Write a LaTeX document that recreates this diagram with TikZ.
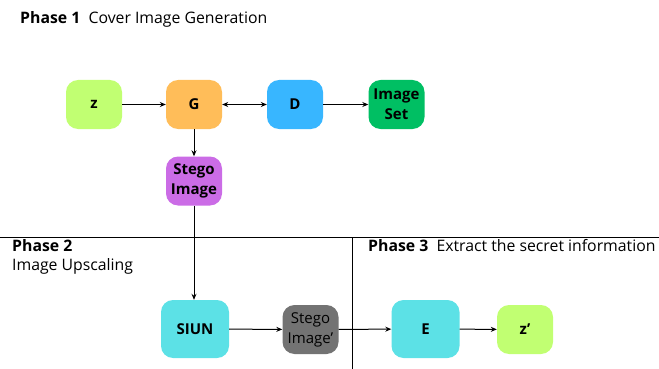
\documentclass[tikz,border=0pt]{standalone}
\usepackage{fontspec}
\setmainfont{Open Sans}
\usepackage{xcolor}
\usetikzlibrary{arrows.meta, calc}
\definecolor{limebox}{HTML}{C1FF72}
\definecolor{orangebox}{HTML}{FFBD59}
\definecolor{bluebox}{HTML}{38B6FF}
\definecolor{greenbox}{HTML}{00BF63}
\definecolor{purplebox}{HTML}{CB6CE6}
\definecolor{cyanbox}{HTML}{5CE1E6}
\definecolor{greybox}{HTML}{737373}

\begin{document}
\begin{tikzpicture}[x=1pt, y=-1pt, >={Stealth[length=6pt, width=5pt]},
  every node/.style={font=\fontsize{15.8}{18}\selectfont},
  blk/.style={rounded corners=12pt, align=center, minimum width=56pt, minimum height=49pt, inner sep=1pt, font=\fontsize{15}{20}\selectfont\bfseries},
  wide/.style={minimum width=68pt, minimum height=58pt}]
  \useasboundingbox (0,0) rectangle (659,369);
  % phase captions
  \node[anchor=west, inner sep=0pt] (ph1) at (20,19) {\textbf{Phase 1}\ \ Cover Image Generation};
  \node[anchor=west, inner sep=0pt] (ph2) at (12,246) {\textbf{Phase 2}};
  \node[anchor=west, inner sep=0pt] (ph2b) at (12,266) {Image Upscaling};
  \node[anchor=west, inner sep=0pt] (ph3) at (368,246) {\textbf{Phase 3}\ \ Extract the secret information};
  % separators
  \draw[line width=1pt] (0,237) -- (659,237);
  \draw[line width=1pt] (352,237) -- (352,369);
  % phase 1 blocks
  \node[blk, fill=limebox] (z) at (94,104.5) {z};
  \node[blk, fill=orangebox] (gen) at (194,104.5) {G};
  \node[blk, fill=bluebox] (disc) at (295,104.5) {D};
  \node[blk, fill=greenbox] (imgset) at (396.5,104.5) {Image\\Set};
  \node[blk, fill=purplebox] (stego) at (194,181) {Stego\\Image};
  % phase 2 and 3 blocks
  \node[blk, wide, fill=cyanbox] (siun) at (195,329) {SIUN};
  \node[blk, fill=greybox, font=\fontsize{15}{20}\selectfont] (stegoup) at (310.5,329.5) {Stego\\Image’};
  \node[blk, wide, fill=cyanbox] (extr) at (425.5,329) {E};
  \node[blk, fill=limebox] (zout) at (525,329.5) {z’};
  % connectors
  \draw[->, line width=1pt] (z) -- (gen);
  \draw[<->, line width=1pt] (gen) -- (disc);
  \draw[->, line width=1pt] (disc) -- (imgset);
  \draw[->, line width=1pt] (gen) -- (stego);
  \draw[->, line width=1pt] (stego.south) -- (stego.south |- siun.north);
  \draw[->, line width=1pt] (siun) -- (stegoup);
  \draw[->, line width=1pt] (stegoup) -- (extr);
  \draw[->, line width=1pt] (extr) -- (zout);
\end{tikzpicture}
\end{document}
